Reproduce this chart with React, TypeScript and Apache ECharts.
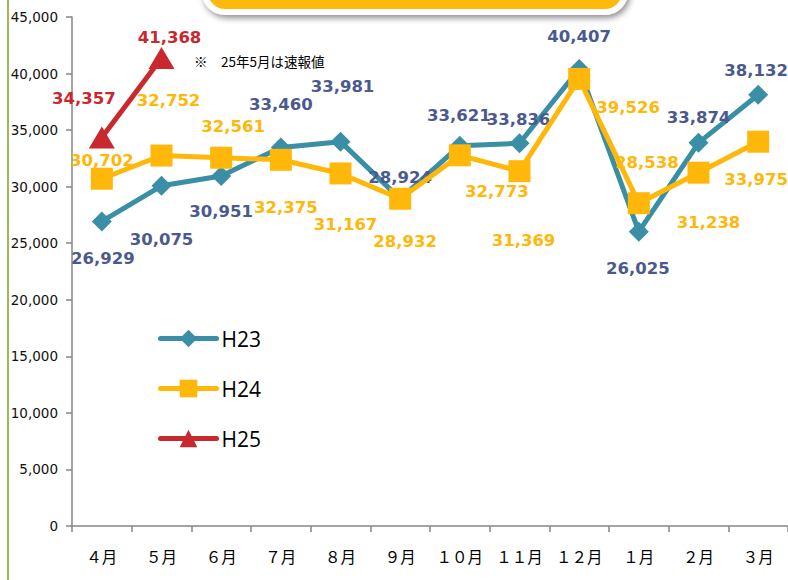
import React, { useEffect, useRef } from "react";
import * as echarts from "echarts";

const categories = ["４月", "５月", "６月", "７月", "８月", "９月", "１０月", "１１月", "１２月", "１月", "２月", "３月"];
const h23 = [26929, 30075, 30951, 33460, 33981, 28924, 33621, 33836, 40407, 26025, 33874, 38132];
const h24 = [30702, 32752, 32561, 32375, 31167, 28932, 32773, 31369, 39526, 28538, 31238, 33975];
const h25 = [34357, 41368];
const yTicks = { min: 0, max: 45000, interval: 5000 };

// label offsets (style only)
const h23Offsets = [[1, 37], [0, 54], [0, 36], [0, -43], [2, -55], [0, -21], [-1, -30], [-1, -24], [0, -32], [-1, 37], [0, -25], [-2, -24]];
const h24Offsets = [[0, -18], [7, -55], [12, -31], [5, 48], [5, 51], [5, 43], [37, 36], [4, 69], [49, 29], [8, -41], [10, 50], [-2, 38]];
const h25Offsets = [[-18, -39], [8, -21]];

const fmt = (v: number) => v.toLocaleString("en-US");

export default function App() {
  const ref = useRef<HTMLDivElement>(null);
  useEffect(() => {
    document.body.style.margin = "0";
    const chart = echarts.init(ref.current!, null, { renderer: "svg" });
    const labelBase = (color: string) => ({
      show: true,
      position: "inside" as const,
      color,
      fontSize: 16.5,
      fontWeight: "bold" as const,
      fontFamily: "DejaVu Sans",
      formatter: (p: any) => fmt(p.value),
    });
    const mk = (vals: number[], offs: number[][]) =>
      vals.map((v, i) => ({ value: v, label: { offset: offs[i] } }));
    chart.setOption({
      animation: false,
      grid: { left: 72, right: 0, top: 17, bottom: 54, containLabel: false },
      legend: {
        orient: "vertical",
        left: 158,
        top: 328,
        padding: 0,
        itemWidth: 56,
        itemHeight: 22,
        itemGap: 29,
        lineStyle: { width: 5, cap: "round" },
        textStyle: { fontSize: 21, color: "#000", fontFamily: "Open Sans" },
        data: ["H23", "H24", "H25"],
      },
      xAxis: {
        type: "category",
        data: categories,
        boundaryGap: true,
        axisLine: { lineStyle: { color: "#868686", width: 1.5 } },
        axisTick: { show: true, interval: 0, length: 6, lineStyle: { color: "#868686", width: 1.5 } },
        axisLabel: { interval: 0, margin: 22, fontSize: 15.5, color: "#000", fontFamily: "Noto Sans CJK JP" },
      },
      yAxis: {
        type: "value",
        min: yTicks.min,
        max: yTicks.max,
        interval: yTicks.interval,
        axisLine: { show: true, lineStyle: { color: "#868686", width: 1.5 } },
        axisTick: { show: true, length: 6, lineStyle: { color: "#868686", width: 1.5 } },
        splitLine: { show: false },
        axisLabel: { margin: 14, fontSize: 13.5, color: "#111", fontFamily: "DejaVu Sans", formatter: (v: number) => fmt(v) },
      },
      series: [
        {
          name: "H23",
          type: "line",
          data: mk(h23, h23Offsets),
          symbol: "diamond",
          symbolSize: [20, 20],
          lineStyle: { width: 5, color: "#3A8EA6" },
          itemStyle: { color: "#3A8EA6" },
          label: labelBase("#4A5A8E"),
          z: 2,
        },
        {
          name: "H24",
          type: "line",
          data: mk(h24, h24Offsets),
          symbol: "rect",
          symbolSize: [22, 22],
          lineStyle: { width: 5, color: "#FFB709" },
          itemStyle: { color: "#FFB709" },
          label: labelBase("#FFB709"),
          z: 3,
        },
        {
          name: "H25",
          type: "line",
          data: mk(h25, h25Offsets),
          symbol: "triangle",
          symbolSize: [26, 22],
          lineStyle: { width: 5, color: "#C8282E" },
          itemStyle: { color: "#C8282E" },
          label: labelBase("#C8282E"),
          z: 4,
        },
      ],
      graphic: [
        {
          type: "line",
          shape: { x1: 8, y1: 0, x2: 8, y2: 580 },
          style: { stroke: "#9BBB59", lineWidth: 2 },
        },
        {
          type: "rect",
          shape: { x: 205, y: -40, width: 420, height: 52, r: 20 },
          style: {
            fill: "#FFB90F",
            stroke: "#fff",
            lineWidth: 6,
            shadowBlur: 6,
            shadowColor: "rgba(0,0,0,0.45)",
            shadowOffsetX: 2,
            shadowOffsetY: 3,
          },
        },
        {
          type: "text",
          left: 194,
          top: 54,
          style: { text: "※　25年5月は速報値", fontSize: 13.5, fill: "#000", fontFamily: "Noto Sans CJK JP" },
        },
      ],
    });
    return () => chart.dispose();
  }, []);
  return <div ref={ref} style={{ width: 788, height: 580 }} />;
}
